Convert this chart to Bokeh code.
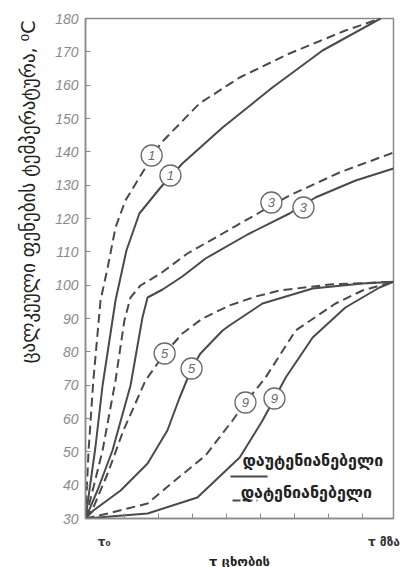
import math
from bokeh.plotting import figure
from bokeh.models import FixedTicker, Label, LinearAxis, Title
from bokeh.core.properties import value
from bokeh.embed import file_html
from bokeh.resources import INLINE

# ---- data (time in tick units, temperature in °C) ----
x_s1 = [0, 0.29, 0.50, 0.88, 1.20, 1.58, 2.20, 2.84, 4.02, 5.48, 6.95, 8.65]
t_s1 = [30, 51.3, 69.9, 95.4, 110.4, 121.5, 129.3, 136.5, 147.3, 159.3, 170.4, 180]

x_d1 = [0, 0.09, 0.23, 0.44, 0.65, 0.88, 1.17, 1.58, 2.20, 3.34, 4.52, 5.98, 7.62, 8.65]
t_d1 = [30, 50.4, 71.4, 95.4, 105.3, 117.3, 125.4, 132.3, 142.5, 154.5, 162.3, 169.5, 176.4, 180]

x_s3 = [0, 0.35, 0.79, 1.32, 1.67, 1.82, 2.26, 2.84, 3.52, 4.75, 5.98, 6.74, 7.92, 9.03]
t_s3 = [30, 38.4, 50.4, 69.9, 90.3, 96.3, 98.7, 102.6, 108.0, 115.2, 121.5, 126.3, 131.4, 135.0]

x_d3 = [0, 0.21, 0.50, 0.88, 1.14, 1.32, 1.61, 2.20, 2.99, 4.02, 5.10, 5.98, 7.45, 9.03]
t_d3 = [30, 38.4, 50.4, 71.4, 89.4, 96.3, 99.9, 103.5, 109.5, 115.5, 121.8, 126.9, 133.8, 139.8]

x_s5 = [0, 0.23, 1.03, 1.82, 2.40, 2.75, 3.11, 3.37, 4.02, 4.22, 5.19, 6.66, 8.12, 9.03]
t_s5 = [30, 32.4, 38.4, 46.5, 56.4, 66.0, 75.0, 79.5, 86.4, 87.9, 94.5, 99.0, 100.5, 101.0]

x_d5 = [0, 0.23, 0.65, 1.11, 1.76, 2.32, 2.84, 3.43, 4.22, 4.99, 5.69, 7.16, 9.03]
t_d5 = [30, 33.3, 43.5, 56.4, 71.4, 79.5, 85.5, 90.0, 93.9, 96.6, 98.4, 100.2, 101.0]

x_s9 = [0, 1.82, 3.28, 4.52, 5.19, 5.54, 5.87, 6.66, 7.62, 8.62, 9.03]
t_s9 = [30, 31.5, 36.3, 48.3, 59.4, 66.0, 72.3, 84.3, 93.3, 99.3, 101.0]

x_d9 = [0, 0.65, 1.82, 2.55, 3.52, 4.31, 4.69, 5.28, 6.16, 7.33, 8.12, 9.03]
t_d9 = [30, 31.5, 34.5, 40.8, 48.9, 59.4, 64.8, 72.3, 86.4, 94.5, 98.4, 101.0]

curve_labels = ["1", "1", "3", "3", "5", "5", "9", "9"]
label_x = [1.94, 2.49, 5.45, 6.39, 2.32, 3.11, 4.69, 5.54]
label_t = [138.9, 132.9, 124.8, 123.3, 79.5, 75.0, 64.8, 66.0]

y_ticks = list(range(30, 190, 10))
x_ticks = [1.13, 2.13, 3.13, 4.13, 5.13, 6.13, 7.13, 8.13]

legend_names = ["დაუტენიანებელი", "დატენიანებელი"]
y_title = "ცალკეული ფენების ტემპერატურა, ⁰C"
time_marks = {0.55: "τ₀", 8.75: "τ მზა"}
time_title = "τ ცხობის"

LINE = "#4a4a4a"
GRAY = "#8a8a8a"
GEO = "DejaVu Sans"

p = figure(frame_width=308, frame_height=500, x_range=(0, 9.03), y_range=(30, 180),
           output_backend="svg", toolbar_location=None,
           min_border_left=83, min_border_right=16, min_border_top=18, min_border_bottom=49)
p.xgrid.visible = False
p.ygrid.visible = False
p.outline_line_color = GRAY
p.outline_line_width = 1.5

p.xaxis.ticker = FixedTicker(ticks=x_ticks)
p.xaxis.major_label_overrides = {t: "" for t in x_ticks}
p.xaxis.major_label_text_font_size = "0px"
p.xaxis.major_label_standoff = 0
p.xaxis.major_tick_in = 5
p.xaxis.major_tick_out = 0
p.xaxis.minor_tick_line_color = None
p.xaxis.axis_line_color = GRAY
p.xaxis.axis_line_width = 1.5
p.xaxis.major_tick_line_color = GRAY

# second bottom axis carrying the time marks
tax = LinearAxis(ticker=FixedTicker(ticks=list(time_marks.keys())),
                 major_label_overrides=time_marks,
                 axis_line_color=None, major_tick_line_color=None, minor_tick_line_color=None,
                 major_label_text_font=GEO, major_label_text_font_size="12px",
                 major_label_text_font_style="bold", major_label_text_color="#333333",
                 major_label_standoff=10,
                 axis_label=time_title, axis_label_text_font=GEO,
                 axis_label_text_font_size="13px", axis_label_text_font_style="bold",
                 axis_label_text_color="#222222", axis_label_standoff=2)
p.add_layout(tax, "below")

p.yaxis.ticker = FixedTicker(ticks=y_ticks)
p.yaxis.major_tick_in = 5
p.yaxis.major_tick_out = 0
p.yaxis.minor_tick_line_color = None
p.yaxis.axis_line_color = GRAY
p.yaxis.axis_line_width = 1.5
p.yaxis.major_tick_line_color = GRAY
p.yaxis.major_label_text_font = "Liberation Sans"
p.yaxis.major_label_text_font_style = "italic"
p.yaxis.major_label_text_font_size = "14px"
p.yaxis.major_label_text_color = GRAY
p.yaxis.major_label_standoff = 7

p.add_layout(Title(text=y_title, align="right", text_font=GEO,
                   text_font_size="19px", text_font_style="normal", text_color="#222222",
                   standoff=28, offset=2), "left")

DASH = "9 5"
for xs, ts, dash in [(x_s1, t_s1, "solid"), (x_d1, t_d1, DASH),
                     (x_s3, t_s3, "solid"), (x_d3, t_d3, DASH),
                     (x_s5, t_s5, "solid"), (x_d5, t_d5, DASH),
                     (x_s9, t_s9, "solid"), (x_d9, t_d9, DASH)]:
    p.line(xs, ts, line_color=LINE, line_width=2, line_dash=dash)

p.scatter(label_x, label_t, marker="circle", size=21, fill_color="white",
          line_color="#6a6a6a", line_width=1.3)
p.text(label_x, label_t, text=curve_labels, text_align="center", text_baseline="middle",
       text_font=value("Liberation Sans"), text_font_style="italic",
       text_font_size="13px", text_color="#6a6a6a")

# legend
p.line([4.25, 5.34], [42.6, 42.6], line_color=LINE, line_width=2)
p.line([4.31, 5.04], [35.4, 35.4], line_color=LINE, line_width=2, line_dash="8 4")
p.add_layout(Label(x=4.60, y=47.4, text=legend_names[0], text_font=GEO, text_font_size="16px",
                   text_font_style="bold", text_color="#222222", text_baseline="middle"))
p.add_layout(Label(x=4.55, y=37.8, text=legend_names[1], text_font=GEO, text_font_size="16px",
                   text_font_style="bold", text_color="#222222", text_baseline="middle"))

open("out.html", "w").write(file_html(p, INLINE))
